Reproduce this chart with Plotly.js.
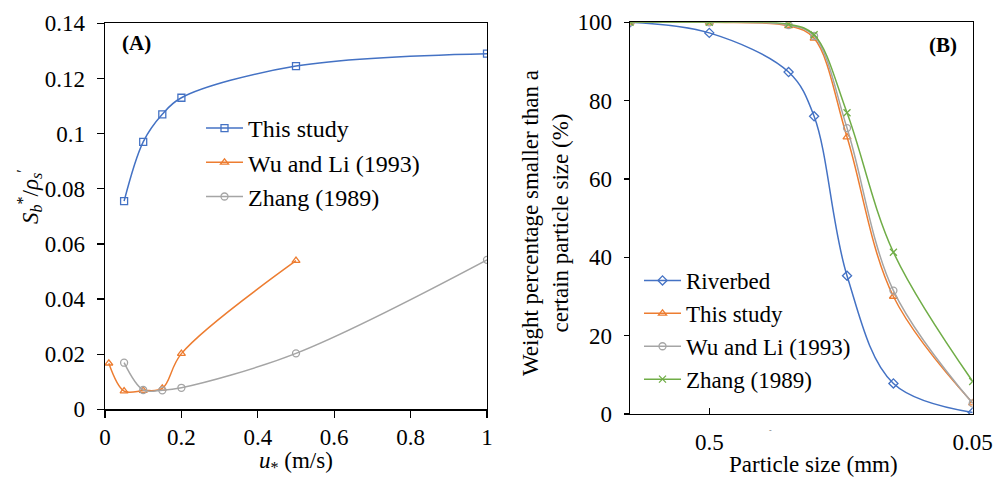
<!DOCTYPE html>
<html>
<head>
<meta charset="utf-8">
<script src="https://cdn.plot.ly/plotly-3.0.1.min.js"></script>
<style>html,body{margin:0;padding:0;background:#fff;}#chart{width:995px;height:477px;}</style>
</head>
<body>
<div id="chart"></div>
<script>
// ---- Panel A data ----
const uThis = [0.05, 0.1, 0.15, 0.2, 0.5, 1.0];
const sThis = [0.0755, 0.097, 0.107, 0.113, 0.1245, 0.129];
const uWu = [0.01, 0.05, 0.1, 0.15, 0.2, 0.5];
const sWu = [0.0167, 0.0066, 0.0068, 0.0076, 0.0202, 0.0539];
const uZhang = [0.05, 0.1, 0.15, 0.2, 0.5, 1.0];
const sZhang = [0.0169, 0.0070, 0.0069, 0.0078, 0.0203, 0.0542];

// ---- Panel B data ----
const sizeMM = [1, 0.5, 0.25, 0.2, 0.15, 0.1, 0.05];
const pRiverbed = [100, 97.3, 87.3, 76.0, 35.3, 7.8, 0.4];
const pThis = [100, 100, 99.1, 95.9, 70.7, 30.0, 2.8];
const pWu = [100, 100, 99.3, 96.5, 73.0, 31.5, 2.7];
const pZhang = [100, 100, 99.5, 96.8, 76.9, 41.3, 8.3];

const BLUE = '#4472C4', ORANGE = '#ED7D31', GRAY = '#A5A5A5', GREEN = '#70AD47';
const FONT = "'Liberation Serif', 'Times New Roman', serif";

function tr(x, y, name, color, symbol, xa, ya, leg) {
  return {
    x: x, y: y, name: name, type: 'scatter', mode: 'lines+markers',
    xaxis: xa, yaxis: ya, legend: leg,
    line: {color: color, width: 1.5, shape: 'spline', smoothing: 1},
    marker: {symbol: symbol, size: 7, color: color, line: {color: color, width: 1.3}}
  };
}

const data = [
  tr(uThis, sThis, 'This study', BLUE, 'square-open', 'x', 'y', 'legend'),
  tr(uWu, sWu, 'Wu and Li (1993)', ORANGE, 'triangle-up-open', 'x', 'y', 'legend'),
  tr(uZhang, sZhang, 'Zhang (1989)', GRAY, 'circle-open', 'x', 'y', 'legend'),
  tr(sizeMM, pRiverbed, 'Riverbed', BLUE, 'diamond-open', 'x2', 'y2', 'legend2'),
  tr(sizeMM, pThis, 'This study', ORANGE, 'triangle-up-open', 'x2', 'y2', 'legend2'),
  tr(sizeMM, pWu, 'Wu and Li (1993)', GRAY, 'circle-open', 'x2', 'y2', 'legend2'),
  tr(sizeMM, pZhang, 'Zhang (1989)', GREEN, 'x-thin-open', 'x2', 'y2', 'legend2')
];

const axBase = {
  showgrid: false, zeroline: false, showline: true, linecolor: '#000', linewidth: 1.3,
  mirror: true, ticks: 'outside', ticklen: 7, tickwidth: 1.3, tickcolor: '#000',
  tickfont: {family: FONT, size: 23, color: '#000'}
};

const layout = {
  width: 995, height: 477,
  margin: {l: 0, r: 0, t: 0, b: 0},
  paper_bgcolor: '#fff', plot_bgcolor: '#fff',
  font: {family: FONT, color: '#000'},
  showlegend: true,
  xaxis: Object.assign({}, axBase, {
    domain: [105/995, 487/995], range: [0, 1], tickvals: [0, 0.2, 0.4, 0.6, 0.8, 1],
    ticktext: ['0', '0.2', '0.4', '0.6', '0.8', '1'], anchor: 'y'
  }),
  yaxis: Object.assign({}, axBase, {
    domain: [1 - 409.3/477, 1 - 23.3/477], range: [0, 0.14],
    tickvals: [0, 0.02, 0.04, 0.06, 0.08, 0.1, 0.12, 0.14],
    ticktext: ['0', '0.02', '0.04', '0.06', '0.08', '0.1', '0.12', '0.14'], anchor: 'x',
    ticklabelstandoff: 7
  }),
  xaxis2: Object.assign({}, axBase, {
    domain: [630/995, 972.7/995], type: 'log', range: [0, Math.log10(0.05)],
    tickvals: [0.5, 0.05], ticktext: ['0.5', '0.05'], ticks: 'inside', ticklen: 6, anchor: 'y2',
    ticklabelstandoff: 7
  }),
  yaxis2: Object.assign({}, axBase, {
    domain: [1 - 414/477, 1 - 22.3/477], range: [0, 100],
    tickvals: [0, 20, 40, 60, 80, 100], ticklen: 5, anchor: 'x2',
    ticklabelstandoff: 7
  }),
  legend: {
    x: 201/995, y: 1 - 106/477, xanchor: 'left', yanchor: 'top', itemwidth: 37,
    bgcolor: 'rgba(0,0,0,0)', font: {family: FONT, size: 24, color: '#000'}
  },
  legend2: {
    x: 639/995, y: 1 - 259/477, xanchor: 'left', yanchor: 'top', itemwidth: 37,
    bgcolor: 'rgba(0,0,0,0)', font: {family: FONT, size: 23, color: '#000'}
  },
  annotations: [
    {text: '<b>(A)</b>', xref: 'paper', yref: 'paper', x: 120/995, y: 1 - 43/477,
     xanchor: 'left', yanchor: 'middle', showarrow: false, font: {family: FONT, size: 21, color: '#000'}},
    {text: '<b>(B)</b>', xref: 'paper', yref: 'paper', x: 959/995, y: 1 - 45/477,
     xanchor: 'right', yanchor: 'middle', showarrow: false, font: {family: FONT, size: 21, color: '#000'}},
    {text: '<i>S</i><sub><i>b</i></sub><sup>*</sup>/<i>ρ</i><sub><i>s</i></sub><sup>′</sup>',
     xref: 'paper', yref: 'paper', x: 29/995, y: 1 - 197/477, textangle: -90,
     xanchor: 'center', yanchor: 'middle', showarrow: false, font: {family: FONT, size: 23, color: '#000'}},
    {text: '<i>u</i><sub>*</sub> (m/s)', xref: 'paper', yref: 'paper', x: 296/995, y: 1 - 462/477,
     xanchor: 'center', yanchor: 'middle', showarrow: false, font: {family: FONT, size: 23, color: '#000'}},
    {text: 'Weight percentage smaller than a<br>certain particle size (%)',
     xref: 'paper', yref: 'paper', x: 545/995, y: 1 - 223/477, textangle: -90,
     xanchor: 'center', yanchor: 'middle', showarrow: false, font: {family: FONT, size: 23, color: '#000'}},
    {text: 'Particle size (mm)', xref: 'paper', yref: 'paper', x: 813/995, y: 1 - 464/477,
     xanchor: 'center', yanchor: 'middle', showarrow: false, font: {family: FONT, size: 23, color: '#000'}},
    {text: '-', xref: 'paper', yref: 'paper', x: 770/995, y: 1 - 430/477,
     xanchor: 'center', yanchor: 'middle', showarrow: false, font: {family: FONT, size: 8, color: '#777'}}
  ]
};

Plotly.newPlot('chart', data, layout, {displayModeBar: false, staticPlot: true});
</script>
</body>
</html>
